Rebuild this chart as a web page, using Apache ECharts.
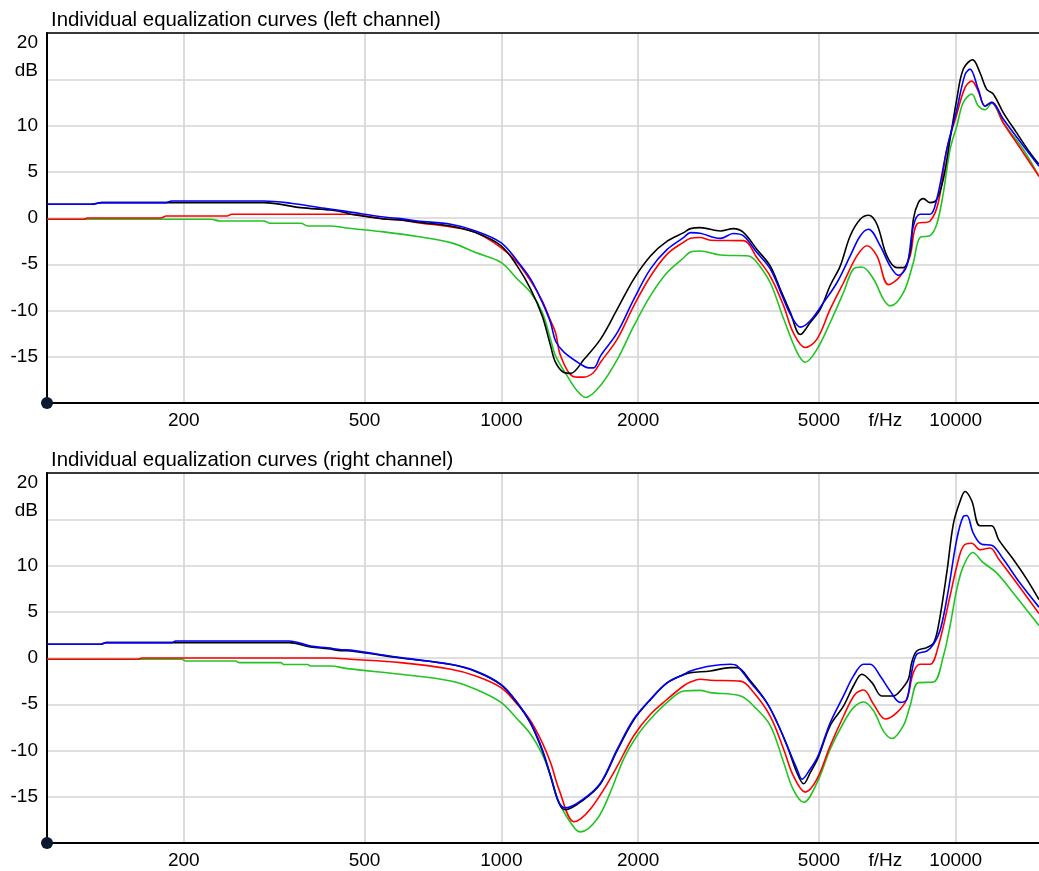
<!DOCTYPE html>
<html><head><meta charset="utf-8">
<script src="https://cdn.jsdelivr.net/npm/echarts@6/dist/echarts.min.js"></script>
<style>html,body{margin:0;padding:0;background:#fff}#c{width:1039px;height:871px}</style>
</head><body><div id="c"></div>
<script>
// ---- data ----
const titles = ['Individual equalization curves (left channel)', 'Individual equalization curves (right channel)'];
const xGridFreqs = [200, 500, 1000, 2000, 5000, 10000];
const xLabelFreqs = [200, 500, 1000, 2000, 5000, 7000, 10000];
const xUnitFreq = 7000;           // position of the "f/Hz" label
const freqMin = 100, freqMax = 15250;
const dbMin = -20, dbMax = 20, dbStep = 5;

const leftBlack = [[100,1.48],[125,1.48],[132,1.66],[300,1.66],[362,1.12],[421,0.86],[455,0.58],[466,0.4],[551,-0.1],[600,-0.2],[654,-0.45],[774,-0.86],[878,-1.58],[998,-3.0],[1084,-5.2],[1160,-7.7],[1230,-10.6],[1283,-13.8],[1316,-15.6],[1373,-16.7],[1420,-16.8],[1519,-15.3],[1653,-13.1],[1799,-9.86],[1956,-6.6],[2129,-4.1],[2317,-2.5],[2520,-1.58],[2607,-1.15],[2739,-1.04],[3034,-1.4],[3240,-1.15],[3413,-1.58],[3652,-3.4],[3907,-5.2],[4111,-7.7],[4324,-10.2],[4548,-12.6],[4784,-11.3],[5034,-9.86],[5293,-7.3],[5568,-5.2],[5857,-1.94],[6163,-0.14],[6428,0.29],[6707,-0.68],[7054,-4.1],[7419,-5.36],[7670,-5.36],[7934,-3.74],[8067,-0.14],[8274,1.66],[8487,2.1],[8781,1.66],[9082,2.0],[9391,4.2],[9716,8.5],[10050,12.8],[10392,16.1],[10900,17.1],[11309,15.7],[11698,13.9],[12095,13.4],[12723,11.4],[13620,9.2],[14567,7.06],[15250,5.8]];
const leftBlue = [[100,1.48],[125,1.48],[132,1.66],[183,1.66],[188,1.84],[300,1.84],[344,1.6],[401,1.1],[455,0.72],[551,0.1],[600,-0.07],[654,-0.32],[774,-0.68],[878,-1.4],[998,-2.66],[1084,-4.64],[1160,-6.6],[1230,-9.1],[1283,-11.3],[1316,-13.3],[1373,-14.5],[1494,-15.8],[1555,-16.2],[1596,-16.2],[1653,-14.9],[1799,-12.4],[1956,-8.8],[2129,-5.5],[2317,-3.4],[2520,-2.1],[2607,-1.58],[2739,-1.65],[3034,-2.2],[3240,-1.68],[3413,-1.94],[3652,-3.74],[3907,-5.5],[4181,-8.8],[4324,-10.4],[4548,-11.8],[4784,-11.1],[5117,-9.14],[5476,-7.0],[5857,-4.1],[6163,-1.94],[6428,-1.22],[6819,-3.0],[7172,-5.2],[7479,-6.2],[7803,-5.2],[8067,-0.86],[8345,0.4],[8781,0.4],[9082,2.0],[9555,7.4],[10050,11.7],[10481,15.5],[10750,16.1],[11213,13.9],[11598,12.1],[11998,12.5],[12723,10.7],[14082,7.8],[15250,5.6]];
const leftRed = [[100,-0.14],[120,-0.14],[123,0],[178,0],[183,0.22],[249,0.22],[255,0.4],[466,0.4],[551,-0.1],[600,-0.2],[654,-0.5],[774,-0.97],[878,-1.58],[998,-3.2],[1084,-4.8],[1160,-6.8],[1230,-8.96],[1283,-11.1],[1316,-12.4],[1350,-14.9],[1434,-17.1],[1494,-17.2],[1519,-17.2],[1596,-16.7],[1653,-15.6],[1799,-13.1],[1956,-9.5],[2129,-6.3],[2317,-3.9],[2520,-2.6],[2607,-2.2],[2739,-2.1],[2884,-2.4],[3413,-2.45],[3652,-4.3],[3907,-6.3],[4181,-9.5],[4390,-12.4],[4665,-14.0],[4950,-13.1],[5293,-9.86],[5662,-7.0],[6060,-4.1],[6376,-3.0],[6707,-4.1],[7111,-7.2],[7545,-6.3],[7934,-4.1],[8208,-0.68],[8781,-0.32],[9158,1.7],[9555,7.4],[10050,11.2],[10481,14.1],[10844,14.8],[11213,13.7],[11598,12.1],[11998,12.5],[12723,10.3],[14082,7.06],[15250,4.5]];
const leftGreen = [[100,-0.14],[230,-0.14],[240,-0.32],[300,-0.32],[310,-0.57],[362,-0.57],[375,-0.86],[421,-0.86],[455,-1.08],[551,-1.5],[654,-2.0],[774,-2.66],[878,-3.74],[998,-4.8],[1084,-6.6],[1160,-8.06],[1230,-10.2],[1283,-13.1],[1316,-14.9],[1397,-17.1],[1469,-18.7],[1532,-19.4],[1653,-18.1],[1799,-15.3],[1956,-11.7],[2129,-8.4],[2317,-5.9],[2520,-4.3],[2607,-3.67],[2739,-3.56],[3034,-4.0],[3500,-4.1],[3652,-4.8],[3907,-7.0],[4181,-10.9],[4473,-14.5],[4665,-15.6],[4950,-14.2],[5293,-11.3],[5662,-8.06],[5957,-5.5],[6216,-5.3],[6593,-6.6],[6934,-8.8],[7172,-9.5],[7670,-8.06],[8067,-4.8],[8345,-2.1],[8781,-1.9],[9082,-0.68],[9391,2.7],[9716,7.4],[10050,9.9],[10392,12.5],[10844,13.4],[11213,12.1],[11598,11.7],[11998,12.4],[12723,10.3],[14082,7.4],[15250,4.5]];

const rightBlack = [[100,1.48],[131,1.48],[135,1.66],[341,1.66],[380,1.2],[415,1.0],[444,0.8],[466,0.76],[600,0.0],[774,-0.7],[878,-1.45],[998,-2.9],[1084,-4.9],[1160,-7.1],[1230,-10.0],[1283,-12.8],[1339,-15.7],[1384,-16.4],[1519,-15.3],[1653,-13.6],[1799,-10.0],[1956,-6.7],[2129,-4.5],[2317,-2.7],[2520,-1.8],[2607,-1.58],[2884,-1.4],[3191,-1.04],[3302,-1.04],[3535,-2.5],[3835,-4.8],[4047,-7.0],[4256,-9.5],[4473,-12.4],[4627,-13.6],[4784,-12.4],[4976,-10.8],[5293,-7.3],[5662,-5.2],[5957,-3.0],[6216,-1.76],[6541,-2.66],[6876,-4.1],[7295,-4.1],[7545,-3.56],[7865,-2.3],[8000,-0.5],[8208,0.76],[8637,1.12],[8933,1.6],[9158,3.46],[9555,9.2],[9890,14.6],[10250,17.1],[10481,18.0],[10844,17.0],[11309,14.3],[11998,14.3],[12429,12.8],[13372,10.7],[14342,8.5],[15250,6.3]];
const rightBlue = [[100,1.48],[131,1.48],[135,1.66],[188,1.66],[192,1.84],[341,1.84],[380,1.3],[415,1.1],[444,0.9],[466,0.85],[600,0.04],[774,-0.68],[878,-1.4],[998,-2.84],[1084,-4.8],[1160,-7.0],[1230,-9.86],[1283,-12.7],[1339,-15.6],[1384,-16.2],[1519,-15.2],[1653,-13.5],[1799,-9.86],[1956,-6.6],[2129,-4.46],[2317,-2.66],[2520,-1.76],[2607,-1.4],[2884,-0.86],[3191,-0.68],[3302,-0.86],[3535,-2.66],[3835,-4.8],[4047,-7.0],[4256,-9.5],[4473,-12.0],[4590,-13.1],[4784,-12.0],[4976,-10.6],[5293,-7.0],[5662,-4.1],[5957,-1.94],[6270,-0.68],[6485,-0.68],[6819,-1.94],[7172,-3.56],[7545,-4.8],[7803,-4.46],[7995,-1.58],[8208,0.4],[8637,0.76],[8933,1.48],[9254,3.1],[9638,7.4],[10050,12.8],[10392,15.3],[10576,15.4],[10930,13.5],[11407,12.3],[11998,12.2],[12723,10.7],[13850,8.1],[15250,5.5]];
const rightRed = [[100,-0.14],[158,-0.14],[162,0],[421,0],[466,-0.14],[600,-0.5],[774,-1.22],[878,-1.94],[998,-3.2],[1084,-5.0],[1160,-6.8],[1230,-9.14],[1283,-11.3],[1339,-14.2],[1444,-17.7],[1494,-17.4],[1572,-16.3],[1681,-14.2],[1799,-11.7],[1956,-8.4],[2129,-6.08],[2317,-4.46],[2520,-3.0],[2607,-2.6],[2739,-2.3],[2884,-2.4],[3362,-2.5],[3593,-3.74],[3907,-6.3],[4181,-9.86],[4387,-12.7],[4665,-14.5],[4950,-13.1],[5293,-9.5],[5662,-6.3],[6004,-3.92],[6270,-3.46],[6593,-5.0],[7000,-6.6],[7419,-5.9],[7803,-4.46],[8067,-1.58],[8345,-0.68],[8781,-0.68],[9158,1.3],[9716,6.7],[10050,9.9],[10392,12.1],[10844,12.4],[11309,11.7],[11906,11.9],[12429,10.7],[13620,8.1],[15250,4.8]];
const rightGreen = [[100,-0.14],[198,-0.14],[202,-0.32],[260,-0.32],[265,-0.5],[327,-0.5],[332,-0.7],[375,-0.7],[380,-0.86],[421,-0.86],[458,-1.15],[600,-1.76],[774,-2.48],[878,-3.38],[998,-4.8],[1084,-6.6],[1160,-8.24],[1230,-10.4],[1283,-12.7],[1339,-15.6],[1444,-18.3],[1494,-18.8],[1625,-17.4],[1738,-14.5],[1859,-10.9],[1990,-8.4],[2129,-6.6],[2317,-4.8],[2520,-3.56],[2739,-3.5],[2884,-3.74],[3362,-4.1],[3593,-5.2],[3907,-7.3],[4181,-11.3],[4387,-14.2],[4627,-15.6],[4950,-13.5],[5293,-9.86],[5662,-7.0],[5957,-5.36],[6270,-4.75],[6593,-5.7],[6934,-7.9],[7234,-8.7],[7670,-7.3],[7934,-5.2],[8274,-2.66],[8933,-2.6],[9391,0.2],[9716,3.46],[10050,7.4],[10392,9.9],[10900,11.4],[11500,10.3],[12302,9.2],[13372,7.06],[15250,3.5]];

// ---- chart ----
const FONT = 'Liberation Sans, Arial, sans-serif';
const colors = {black:'#000000', blue:'#0000ff', red:'#ff0000', green:'#22c422'};
const panels = [
  {black:leftBlack, blue:leftBlue, red:leftRed, green:leftGreen},
  {black:rightBlack, blue:rightBlue, red:rightRed, green:rightGreen}
];
const L = Math.log10;
const grids = [], xAxes = [], yAxes = [], series = [], title = [];
const panelTop = [33, 473];
panelTop.forEach((top, i) => {
  grids.push({left:47, top:top, width:992, height:370, containLabel:false});
  title.push({text:titles[i], left:51, top:top - 23, padding:0,
    textStyle:{fontFamily:FONT, fontSize:20.4, fontWeight:'normal', color:'#000'}});
  xAxes.push({type:'value', gridIndex:i, min:L(freqMin), max:L(freqMax),
    axisLine:{show:true, onZero:false, lineStyle:{color:'#000', width:2}},
    axisTick:{show:false, customValues:xGridFreqs.map(L)},
    axisLabel:{customValues:xLabelFreqs.map(L), margin:8, fontFamily:FONT, fontSize:19, color:'#000',
      formatter:v => { const f = Math.round(Math.pow(10, v)); return f === xUnitFreq ? 'f/Hz' : String(f); }},
    splitLine:{show:true, lineStyle:{color:'#d4d4d4', width:1.6}}});
  xAxes.push({type:'value', gridIndex:i, position:'top', min:L(freqMin), max:L(freqMax),
    axisLine:{show:true, onZero:false, lineStyle:{color:'#000', width:1.5}},
    axisTick:{show:false}, axisLabel:{show:false}, splitLine:{show:false}});
  yAxes.push({type:'value', gridIndex:i, min:dbMin, max:dbMax, interval:dbStep,
    axisLine:{show:true, onZero:false, lineStyle:{color:'#000', width:2}},
    axisTick:{show:false},
    axisLabel:{margin:9, fontFamily:FONT, fontSize:19, color:'#000',
      formatter:v => v === dbMax ? '{t|' + v + '}' : (v === dbMax - dbStep ? '{d|dB}' : (v === dbMin ? '' : String(v))),
      rich:{t:{fontFamily:FONT, fontSize:19, color:'#000', padding:[19,0,0,0]},
            d:{fontFamily:FONT, fontSize:19, color:'#000', padding:[0,0,16,0]}}},
    splitLine:{show:true, lineStyle:{color:'#d4d4d4', width:1.6}}});
  ['green','red','black','blue'].forEach(name => {
    series.push({type:'line', name:name + i, xAxisIndex:i*2, yAxisIndex:i,
      data:panels[i][name].map(p => [L(p[0]), p[1]]),
      showSymbol:false, symbol:'none', smooth:0.35, lineStyle:{color:colors[name], width:1.6},
      itemStyle:{color:colors[name]}, animation:false, z:3});
  });
  series.push({type:'scatter', xAxisIndex:i*2, yAxisIndex:i, data:[[L(freqMin), dbMin]],
    symbolSize:12, itemStyle:{color:'#0b1a30', opacity:1}, clip:false, z:10, animation:false, silent:true});
});

const chart = echarts.init(document.getElementById('c'), null, {renderer:'canvas'});
chart.setOption({backgroundColor:'#fff', animation:false, title:title, grid:grids,
  xAxis:xAxes, yAxis:yAxes, series:series});
</script></body></html>
